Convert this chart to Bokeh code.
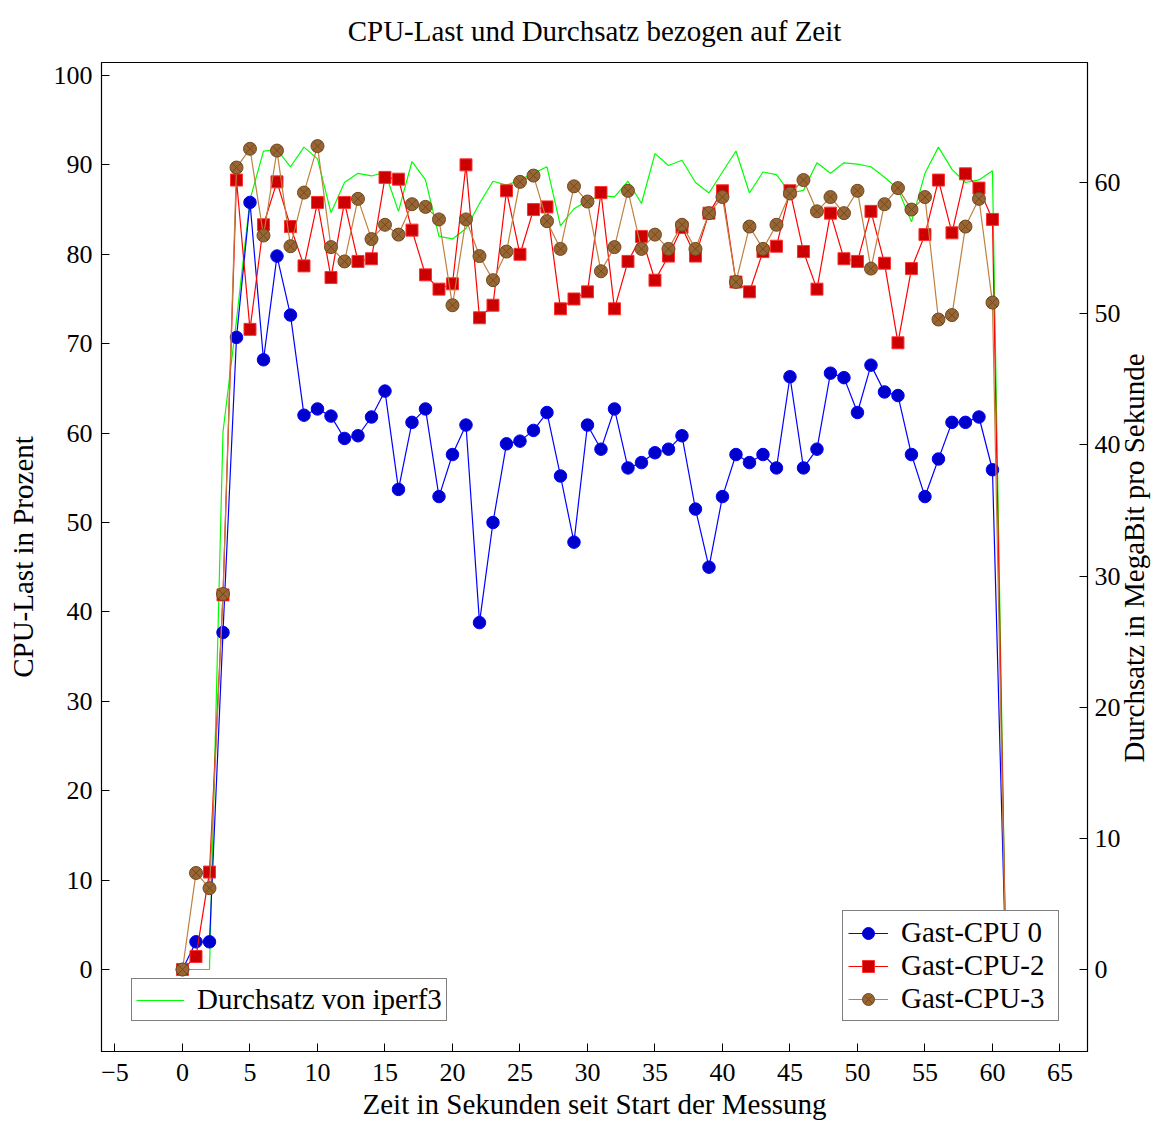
import math
from bokeh.plotting import figure
from bokeh.models import Range1d, LinearAxis, Legend, LegendItem, FixedTicker
from bokeh.embed import file_html
from bokeh.resources import INLINE

# ---------------- data ----------------
t = list(range(0, 62))

cpu0 = [0, 3.1, 3.1, 37.7, 70.7, 85.8, 68.2, 79.8, 73.2, 62.0,
        62.7, 61.9, 59.4, 59.7, 61.8, 64.7, 53.7, 61.2, 62.7, 52.9,
        57.6, 60.9, 38.8, 50.0, 58.8, 59.1, 60.3, 62.3, 55.2, 47.8,
        60.9, 58.2, 62.7, 56.1, 56.7, 57.8, 58.2, 59.7, 51.5, 45.0,
        52.9, 57.6, 56.7, 57.6, 56.1, 66.3, 56.1, 58.2, 66.7, 66.2,
        62.3, 67.6, 64.6, 64.2, 57.6, 52.9, 57.1, 61.2, 61.2, 61.8,
        55.9, 0]

cpu2 = [0, 1.45, 10.9, 41.9, 88.3, 71.6, 83.3, 88.1, 83.1, 78.7,
        85.8, 77.4, 85.8, 79.2, 79.5, 88.6, 88.4, 82.7, 77.7, 76.1,
        76.7, 90.0, 72.9, 74.3, 87.1, 80.0, 85.0, 85.3, 73.9, 75.0,
        75.8, 86.9, 73.9, 79.2, 82.0, 77.1, 79.8, 83.0, 79.8, 84.6,
        87.1, 76.9, 75.8, 80.3, 80.9, 87.1, 80.3, 76.1, 84.6, 79.5,
        79.2, 84.8, 79.0, 70.1, 78.4, 82.2, 88.3, 82.4, 89.0, 87.4,
        83.9, 0]

cpu3 = [0, 10.8, 9.1, 42.0, 89.7, 91.8, 82.1, 91.6, 80.9, 86.9,
        92.1, 80.8, 79.2, 86.2, 81.7, 83.3, 82.2, 85.6, 85.3, 83.9,
        74.3, 83.9, 79.8, 77.1, 80.3, 88.1, 88.8, 83.7, 80.6, 87.6,
        85.9, 78.1, 80.8, 87.1, 80.6, 82.2, 80.6, 83.3, 80.6, 84.6,
        86.4, 76.9, 83.1, 80.6, 83.3, 86.8, 88.3, 84.8, 86.4, 84.6,
        87.1, 78.4, 85.6, 87.4, 85.0, 86.4, 72.7, 73.2, 83.1, 86.2,
        74.6, 0]

iperf = [0, 0, 0, 41.0, 49.5, 58.7, 62.4, 62.5, 61.2, 62.7,
         61.8, 57.7, 60.0, 60.7, 60.5, 60.8, 57.8, 61.6, 60.2, 55.9,
         55.7, 56.5, 58.4, 60.1, 59.8, 60.2, 60.7, 61.2, 56.7, 58.0,
         58.6, 59.0, 58.9, 60.1, 58.4, 62.2, 61.3, 61.7, 60.0, 59.2,
         60.8, 62.4, 59.2, 60.8, 60.6, 59.2, 59.4, 61.5, 60.7, 61.5,
         61.4, 61.2, 60.4, 59.5, 57.0, 60.7, 62.7, 61.0, 60.0, 60.2,
         60.9, 0]

x_ticks = list(range(-5, 70, 5))
left_ticks = list(range(0, 110, 10))
right_ticks = list(range(0, 70, 10))

title_text = "CPU-Last und Durchsatz bezogen auf Zeit"
x_label = "Zeit in Sekunden seit Start der Messung"
y_label = "CPU-Last in Prozent"
y2_label = "Durchsatz in MegaBit pro Sekunde"
y2_label_start = 15.78   # right-axis value where the label text begins (bottom end)

FONT = "Liberation Serif"
TICK_FS = "26px"
TEXT_FS = "29px"

p = figure(width=1169, height=1122, output_backend="svg", toolbar_location=None,
           x_range=Range1d(-6.0, 67.04), y_range=Range1d(-9.17, 101.45),
           min_border_left=101, min_border_right=82, min_border_top=62,
           min_border_bottom=71, title=title_text)
p.extra_y_ranges = {"tp": Range1d(-6.25, 69.15)}

p.title.align = "center"
p.title.vertical_align = "top"
p.title.text_font = FONT
p.title.text_font_size = TEXT_FS
p.title.text_font_style = "normal"
p.title.text_color = "black"
p.title.standoff = 28

p.grid.visible = False
p.outline_line_color = "black"
p.outline_line_width = 1.2
p.background_fill_color = "white"
p.border_fill_color = "white"

# axes
p.xaxis.ticker = FixedTicker(ticks=x_ticks)
p.xaxis.major_label_overrides = {-5: "\u22125"}
p.xaxis.axis_label = x_label
p.yaxis.ticker = FixedTicker(ticks=left_ticks)
p.yaxis.axis_label = y_label

ry = LinearAxis(y_range_name="tp", ticker=FixedTicker(ticks=right_ticks))
p.add_layout(ry, "right")

for ax in [p.xaxis[0], p.yaxis[0], ry]:
    ax.major_label_text_font = FONT
    ax.major_label_text_font_size = TICK_FS
    ax.major_label_text_color = "black"
    ax.axis_label_text_font = FONT
    ax.axis_label_text_font_size = TEXT_FS
    ax.axis_label_text_font_style = "normal"
    ax.axis_label_text_color = "black"
    ax.major_tick_in = 8
    ax.major_tick_out = 0
    ax.minor_tick_line_color = None
    ax.axis_line_color = "black"
    ax.major_tick_line_color = "black"
    ax.major_tick_line_width = 1
    ax.major_label_standoff = 9

p.xaxis.major_label_standoff = 12
p.xaxis.axis_label_standoff = 4
p.yaxis.axis_label_standoff = 12
ry.major_label_standoff = 7

# label-only axis on the right: the label text is a rotated tick label so that
# it reads bottom-to-top like the reference
lab_ax = LinearAxis(y_range_name="tp", ticker=FixedTicker(ticks=[y2_label_start]),
                    major_label_overrides={y2_label_start: y2_label})
lab_ax.axis_line_color = None
lab_ax.major_tick_line_color = None
lab_ax.minor_tick_line_color = None
lab_ax.major_tick_in = 0
lab_ax.major_tick_out = 0
lab_ax.minor_tick_in = 0
lab_ax.minor_tick_out = 0
lab_ax.major_label_orientation = math.pi / 2
lab_ax.major_label_standoff = 11
lab_ax.major_label_text_font = FONT
lab_ax.major_label_text_font_size = TEXT_FS
lab_ax.major_label_text_color = "black"
p.add_layout(lab_ax, "right")

# series
g = p.line(t, iperf, y_range_name="tp", line_color="#00ff00", line_width=1.2)

b_l = p.line(t, cpu0, line_color="#0000ff", line_width=1.2)
b_s = p.scatter(t, cpu0, marker="circle", size=12.5, fill_color="#0000cc",
                line_color="#0000ff", line_width=1)
r_l = p.line(t, cpu2, line_color="#ff0000", line_width=1.2)
r_s = p.scatter(t, cpu2, marker="square", size=12, fill_color="#cc0000",
                line_color="#ff3030", line_width=1)
br_l = p.line(t, cpu3, line_color="#bf8040", line_width=1.2)
br_s = p.scatter(t, cpu3, marker="circle_x", size=13, fill_color="#996633",
                 line_color="#6e4a22", line_width=1)


def style_legend(lg):
    lg.border_line_color = "black"
    lg.border_line_width = 1
    lg.background_fill_color = "white"
    lg.background_fill_alpha = 1
    lg.label_text_font = FONT
    lg.label_text_font_size = TEXT_FS
    lg.label_text_color = "black"
    lg.label_text_baseline = "middle"
    lg.glyph_width = 40
    lg.glyph_height = 30
    lg.label_height = 32
    lg.label_standoff = 13
    lg.spacing = 0
    lg.padding = 5
    lg.margin = 0


leg1 = Legend(items=[LegendItem(label="Durchsatz von iperf3", renderers=[g])],
              location=(30, 30))
style_legend(leg1)
leg1.glyph_width = 48
leg1.padding = 4
leg2 = Legend(items=[LegendItem(label="Gast-CPU 0", renderers=[b_l, b_s]),
                     LegendItem(label="Gast-CPU-2", renderers=[r_l, r_s]),
                     LegendItem(label="Gast-CPU-3", renderers=[br_l, br_s])],
              location=(741, 30))
style_legend(leg2)
leg2.label_width = 152
p.add_layout(leg1, "center")
p.add_layout(leg2, "center")

open("out.html", "w").write(file_html(p, INLINE))
